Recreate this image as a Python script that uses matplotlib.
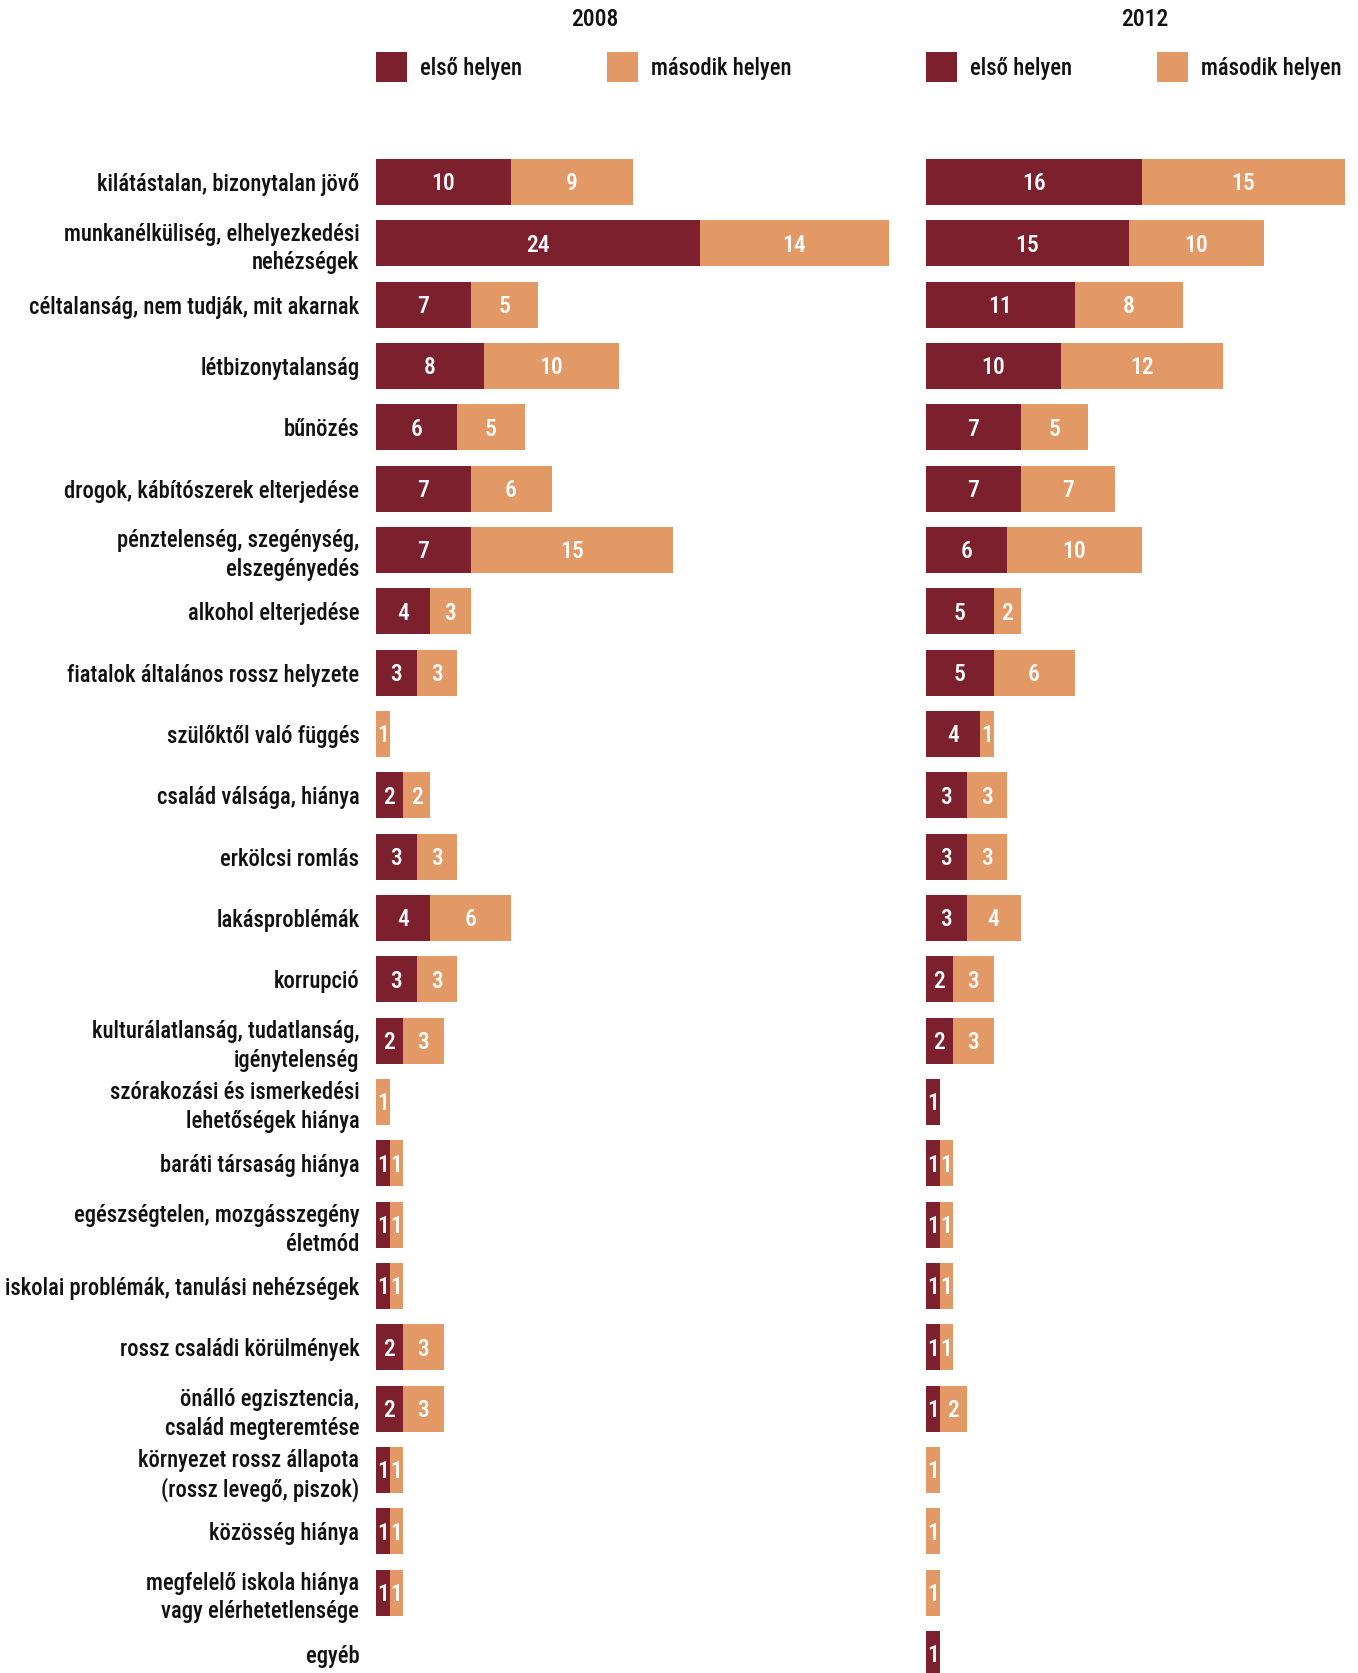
import matplotlib
matplotlib.use("Agg")
import matplotlib.pyplot as plt
from matplotlib.patches import Rectangle
from matplotlib import font_manager

# Condensed sans face, first one that is installed
names = {f.name for f in font_manager.fontManager.ttflist}
FONT = next((n for n in ["Roboto Condensed", "Archivo Narrow", "IBM Plex Sans Condensed",
                         "Fira Sans Condensed", "Liberation Sans"] if n in names), "DejaVu Sans")
plt.rcParams["font.family"] = [FONT, "DejaVu Sans"]
plt.rcParams["font.weight"] = 500

categories = [
    "kilátástalan, bizonytalan jövő",
    "munkanélküliség, elhelyezkedési\nnehézségek",
    "céltalanság, nem tudják, mit akarnak",
    "létbizonytalanság",
    "bűnözés",
    "drogok, kábítószerek elterjedése",
    "pénztelenség, szegénység,\nelszegényedés",
    "alkohol elterjedése",
    "fiatalok általános rossz helyzete",
    "szülőktől való függés",
    "család válsága, hiánya",
    "erkölcsi romlás",
    "lakásproblémák",
    "korrupció",
    "kulturálatlanság, tudatlanság,\nigénytelenség",
    "szórakozási és ismerkedési\nlehetőségek hiánya",
    "baráti társaság hiánya",
    "egészségtelen, mozgásszegény\néletmód",
    "iskolai problémák, tanulási nehézségek",
    "rossz családi körülmények",
    "önálló egzisztencia,\ncsalád megteremtése",
    "környezet rossz állapota\n(rossz levegő, piszok)",
    "közösség hiánya",
    "megfelelő iskola hiánya\nvagy elérhetetlensége",
    "egyéb",
]

first_2008 = [10, 24, 7, 8, 6, 7, 7, 4, 3, 0, 2, 3, 4, 3, 2, 0, 1, 1, 1, 2, 2, 1, 1, 1, 0]
second_2008 = [9, 14, 5, 10, 5, 6, 15, 3, 3, 1, 2, 3, 6, 3, 3, 1, 1, 1, 1, 3, 3, 1, 1, 1, 0]
first_2012 = [16, 15, 11, 10, 7, 7, 6, 5, 5, 4, 3, 3, 3, 2, 2, 1, 1, 1, 1, 1, 1, 0, 0, 0, 1]
second_2012 = [15, 10, 8, 12, 5, 7, 10, 2, 6, 1, 3, 3, 4, 3, 3, 0, 1, 1, 1, 1, 2, 1, 1, 1, 0]

years = ["2008", "2012"]
legend_labels = ["első helyen", "második helyen"]

DARK = "#7D202D"
LIGHT = "#E39966"

W, H = 1358, 1673
fig = plt.figure(figsize=(W / 100, H / 100), dpi=100)

PX_PER_UNIT = 13.5
TOP_PX = 150
pitch = 61.33
first_center = 182.0
n = len(categories)
y_top = (TOP_PX - first_center) / pitch
y_bot = (n - 1) + (H - (first_center + pitch * (n - 1))) / pitch

panels = [
    (376, 520, first_2008, second_2008),
    (926, W - 926, first_2012, second_2012),
]

FS = 16.3
FS_NUM = 17
TXT = "#111111"
for i, (left_px, width_px, s1, s2) in enumerate(panels):
    ax = fig.add_axes([left_px / W, 0, width_px / W, (H - TOP_PX) / H])
    ypos = list(range(n))
    ax.barh(ypos, s1, height=0.75, color=DARK, linewidth=0)
    ax.barh(ypos, s2, left=s1, height=0.75, color=LIGHT, linewidth=0)
    for y, a, b in zip(ypos, s1, s2):
        if a:
            ax.text(a / 2, y + 0.03, str(a), ha="center", va="center", color="white", fontsize=FS_NUM)
        if b:
            ax.text(a + b / 2, y + 0.03, str(b), ha="center", va="center", color="white", fontsize=FS_NUM)
    ax.set_xlim(0, width_px / PX_PER_UNIT)
    ax.set_ylim(y_bot, y_top)
    ax.set_xticks([])
    for sp in ax.spines.values():
        sp.set_visible(False)
    ax.set_yticks(ypos)
    if i == 0:
        ax.set_yticklabels(categories, fontsize=FS, linespacing=1.3, color=TXT)
        ax.tick_params(axis="y", length=0, pad=12)
    else:
        ax.set_yticklabels([])
        ax.tick_params(axis="y", length=0)
    ax.patch.set_alpha(0)

# Year titles and legend keys
title_x = [595, 1145]
legend_sq = [(376, 607), (926, 1157)]
for k in range(2):
    fig.text(title_x[k] / W, 1 - 20 / H, years[k], ha="center", va="center", fontsize=17, color=TXT)
    for j, (col, lab) in enumerate(zip([DARK, LIGHT], legend_labels)):
        x0 = legend_sq[k][j]
        fig.add_artist(Rectangle((x0 / W, 1 - 82 / H), 31 / W, 30 / H,
                                 transform=fig.transFigure, color=col, linewidth=0))
        fig.text((x0 + 44) / W, 1 - 68 / H, lab, ha="left", va="center", fontsize=FS, color=TXT)

fig.savefig("out.png", dpi=100)
